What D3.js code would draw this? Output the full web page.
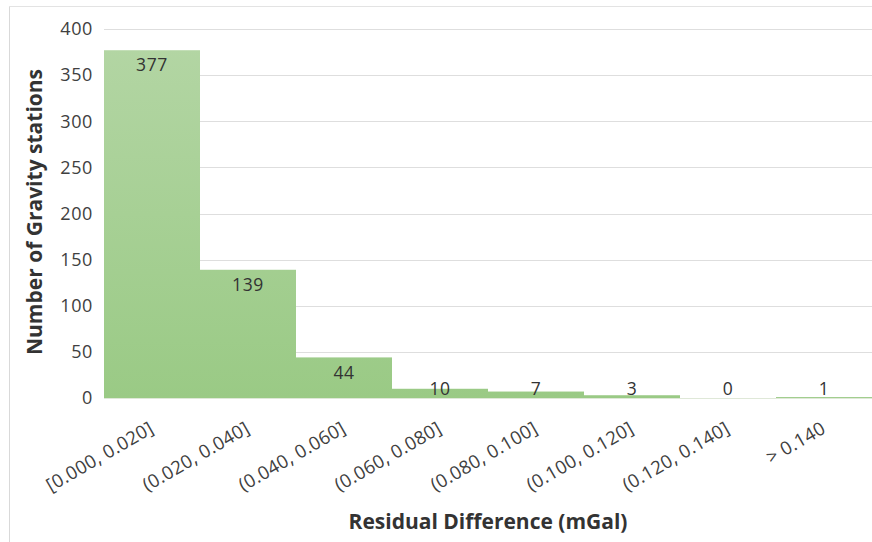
<!DOCTYPE html>
<html><head><meta charset="utf-8">
<script src="https://cdn.jsdelivr.net/npm/d3@7"></script>
<style>
html,body{margin:0;padding:0;background:#fff;}
svg{display:block;font-family:"Open Sans",sans-serif;}
</style></head>
<body>
<svg id="chart" width="872" height="542"></svg>
<script>
const categories = ["[0.000, 0.020]","(0.020, 0.040]","(0.040, 0.060]","(0.060, 0.080]","(0.080, 0.100]","(0.100, 0.120]","(0.120, 0.140]","> 0.140"];
const counts = [377, 139, 44, 10, 7, 3, 0, 1];
const yTicks = [0, 50, 100, 150, 200, 250, 300, 350, 400];
const xTitle = "Residual Difference (mGal)";
const yTitle = "Number of Gravity stations";

const W = 872, H = 542;
const m = {left:104, top:29, right:0, bottom:144};
const svg = d3.select("#chart");

// outer frame
svg.append("line").attr("x1",9.5).attr("x2",9.5).attr("y1",6).attr("y2",H).attr("stroke","#d9d9d9");
svg.append("line").attr("x1",9).attr("x2",W).attr("y1",6.5).attr("y2",6.5).attr("stroke","#e3e3e3");

const x = d3.scaleBand().domain(categories).range([m.left, W - m.right]).padding(0);
const y = d3.scaleLinear().domain([0, 400]).range([H - m.bottom, m.top]);

const defs = svg.append("defs");
const grad = defs.append("linearGradient").attr("id","g").attr("gradientUnits","userSpaceOnUse")
  .attr("x1",0).attr("x2",0).attr("y1",y(400)).attr("y2",y(0));
grad.append("stop").attr("offset","0%").attr("stop-color","#b4d6a5");
grad.append("stop").attr("offset","100%").attr("stop-color","#9aca85");

// gridlines
svg.append("g").selectAll("line").data(yTicks.filter(d=>d>0)).join("line")
  .attr("x1", m.left).attr("x2", W).attr("y1", d=>Math.round(y(d))+0.5).attr("y2", d=>Math.round(y(d))+0.5)
  .attr("stroke","#dedede").attr("stroke-width",1);

// bars
svg.append("g").selectAll("rect").data(counts).join("rect")
  .attr("x",(d,i)=>x(categories[i])).attr("width",x.bandwidth())
  .attr("y",d=>y(d)).attr("height",d=>y(0)-y(d))
  .attr("fill","url(#g)");

// baseline
svg.append("line").attr("x1",m.left).attr("x2",W).attr("y1",y(0)+0.5).attr("y2",y(0)+0.5).attr("stroke","#dfe8d8");

// y axis
const yAxis = d3.axisLeft(y).tickValues(yTicks).tickSize(0).tickPadding(11);
const ya = svg.append("g").attr("transform",`translate(${m.left},0)`).call(yAxis);
ya.select(".domain").remove();
ya.selectAll("text").attr("font-family","Open Sans").attr("font-size",18).attr("fill","#404040").attr("letter-spacing","0.6px");

// x axis
const xAxis = d3.axisBottom(x).tickSize(0).tickPadding(0);
const xa = svg.append("g").attr("transform",`translate(0,${y(0)})`).call(xAxis);
xa.select(".domain").remove();
xa.selectAll("text")
  .attr("font-family","Open Sans").attr("font-size",18.5).attr("fill","#404040").attr("letter-spacing","0.3px")
  .attr("text-anchor","end").attr("dy",0).attr("y",0)
  .attr("transform","translate(3,34) rotate(-30)");

// value labels
svg.append("g").selectAll("text").data(counts).join("text")
  .attr("x",(d,i)=>x(categories[i]) + x.bandwidth()/2)
  .attr("y",d=>Math.min(y(d)+15, 389))
  .attr("dy","0.35em")
  .attr("text-anchor","middle")
  .attr("font-size",17.5).attr("fill","#333").attr("letter-spacing","0.6px")
  .text(d=>d);

// titles
svg.append("text").attr("x",488).attr("y",529).attr("text-anchor","middle")
  .attr("font-weight","bold").attr("font-size",21).attr("fill","#333").text(xTitle);
svg.append("text").attr("transform","translate(42,212) rotate(-90)").attr("text-anchor","middle")
  .attr("font-weight","bold").attr("font-size",21).attr("fill","#333").text(yTitle);
</script>
</body></html>
